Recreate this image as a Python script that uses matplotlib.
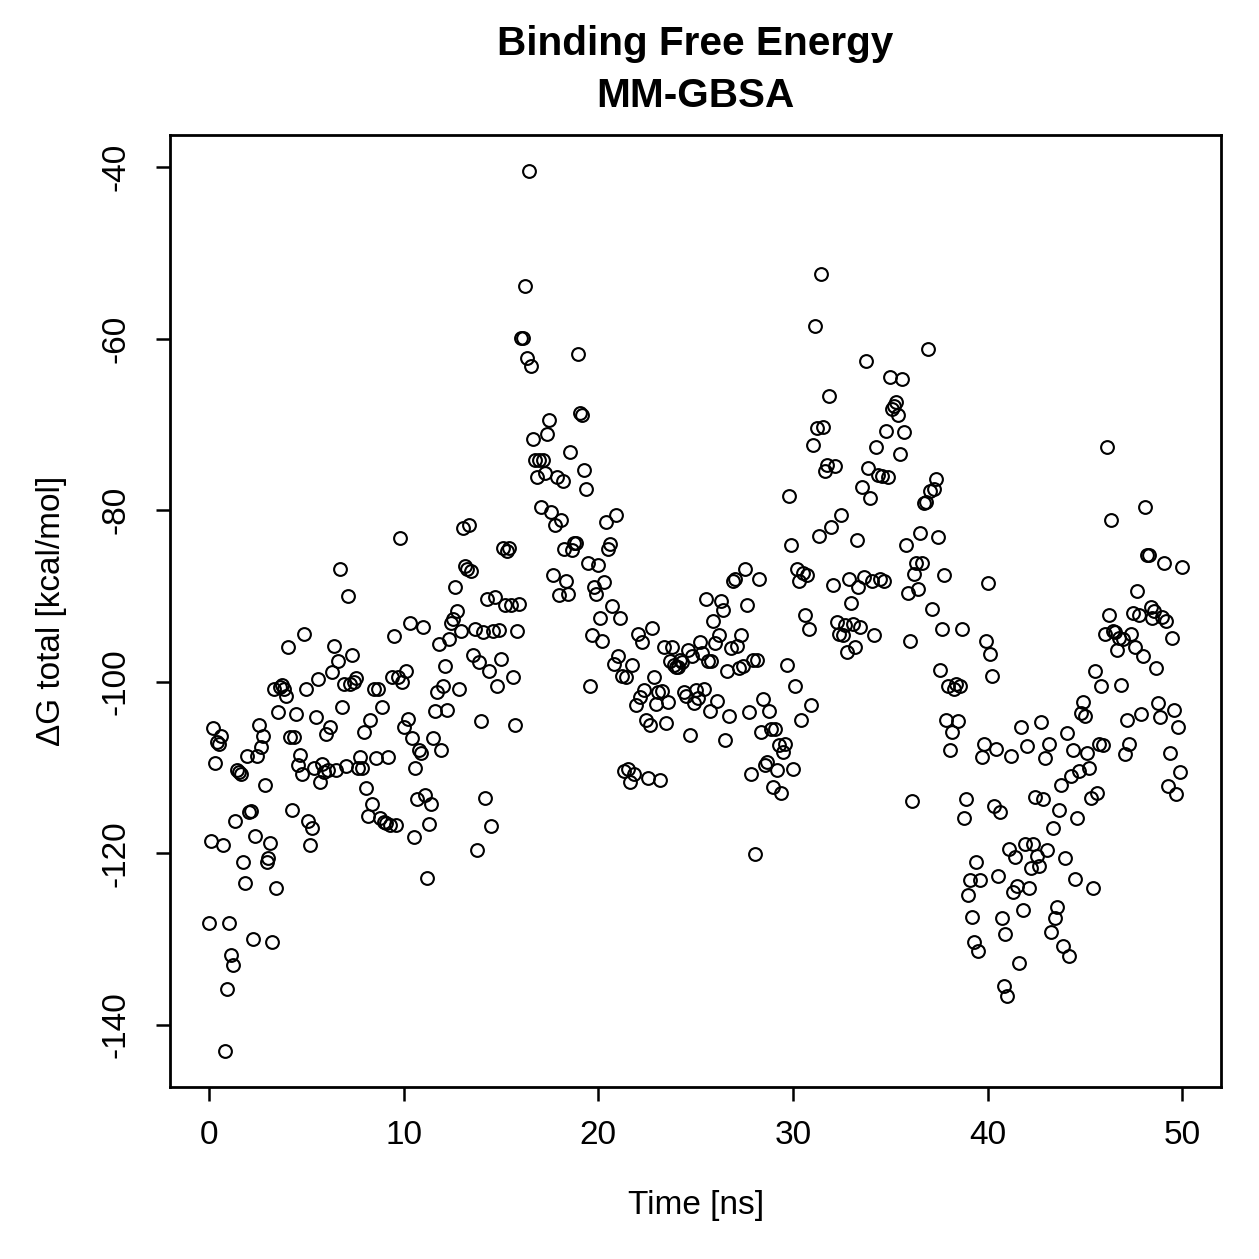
import numpy as np
import matplotlib
matplotlib.use("Agg")
import matplotlib.pyplot as plt

plt.rcParams['font.family'] = ['Liberation Sans', 'DejaVu Sans']

# dG total (kcal/mol), one frame every ~0.1 ns from 0 to 50 ns
dg = [
    -128.1, -118.6, -105.4, -109.5, -107.0, -107.2, -106.3, -119.0, -143.0, -135.8,
    -128.1, -131.9, -133.0, -116.2, -110.3, -110.5, -110.8, -121.0, -123.5, -108.6,
    -115.2, -115.1, -130.0, -118.0, -108.7, -105.0, -107.6, -106.3, -112.0, -121.0,
    -120.6, -118.8, -130.3, -100.8, -124.0, -103.5, -100.6, -100.4, -100.8, -101.7,
    -96.0, -106.4, -114.9, -106.4, -103.7, -109.7, -108.5, -110.8, -94.4, -100.8,
    -116.2, -119.0, -117.0, -110.1, -104.1, -99.7, -111.7, -109.6, -110.5, -106.1,
    -110.3, -105.3, -98.9, -95.8, -110.3, -97.6, -86.8, -102.9, -100.2, -109.8,
    -90.0, -100.3, -96.9, -100.0, -99.6, -110.1, -108.8, -110.0, -105.9, -112.4,
    -115.7, -104.5, -114.3, -100.8, -108.9, -100.8, -115.9, -102.9, -116.4, -116.5,
    -108.8, -116.7, -99.5, -94.7, -116.7, -99.5, -83.2, -100.0, -105.3, -98.8,
    -104.3, -93.1, -106.6, -118.1, -110.1, -113.7, -107.9, -108.3, -93.6, -113.2,
    -122.9, -116.6, -114.3, -106.5, -103.4, -101.2, -95.6, -108.0, -100.5, -98.2,
    -103.3, -95.0, -93.2, -92.7, -88.9, -91.7, -100.8, -94.1, -82.1, -86.5,
    -86.9, -81.7, -87.1, -96.9, -93.8, -119.6, -97.7, -104.6, -94.2, -113.6,
    -90.3, -98.7, -116.8, -94.1, -90.1, -100.5, -94.0, -97.4, -84.4, -91.0,
    -84.7, -84.4, -91.0, -99.5, -105.0, -94.1, -90.9, -59.9, -59.9, -53.9,
    -62.2, -40.4, -63.2, -71.7, -74.1, -76.1, -74.1, -79.6, -74.1, -75.6,
    -71.1, -69.5, -80.2, -87.5, -81.7, -76.1, -89.9, -81.1, -76.6, -84.5,
    -88.3, -89.8, -73.2, -84.6, -83.8, -83.8, -61.8, -68.6, -68.9, -75.3,
    -77.5, -86.1, -100.5, -94.5, -88.9, -89.8, -86.4, -92.6, -95.3, -88.4,
    -81.4, -84.5, -83.9, -91.2, -97.9, -80.6, -97.0, -92.6, -99.3, -110.4,
    -99.4, -110.2, -111.7, -98.1, -110.8, -102.7, -94.4, -101.8, -95.4, -101.0,
    -104.4, -111.2, -105.0, -93.7, -99.5, -102.6, -101.2, -111.4, -101.1, -96.0,
    -104.8, -102.4, -97.6, -96.0, -98.0, -98.3, -98.3, -97.5, -97.7, -101.2,
    -101.6, -96.3, -106.2, -97.0, -102.5, -100.9, -101.9, -95.4, -96.7, -100.8,
    -90.4, -97.6, -103.4, -97.6, -92.9, -95.5, -102.2, -94.6, -90.6, -91.6,
    -106.8, -98.8, -104.0, -96.1, -88.2, -88.0, -95.8, -98.4, -94.6, -98.2,
    -86.8, -91.1, -103.5, -110.7, -97.5, -120.1, -97.5, -88.0, -105.8, -102.0,
    -109.7, -109.3, -103.4, -105.5, -112.3, -105.5, -110.3, -107.4, -113.0, -108.2,
    -107.3, -98.1, -78.3, -84.0, -110.2, -100.5, -86.8, -88.2, -104.4, -87.3,
    -92.2, -87.6, -93.8, -102.7, -72.4, -58.5, -70.4, -83.0, -52.5, -70.3,
    -75.4, -74.7, -66.7, -81.9, -88.7, -74.8, -93.0, -94.4, -80.5, -94.5,
    -93.4, -96.5, -88.0, -90.8, -93.3, -96.0, -83.5, -89.0, -93.6, -77.3,
    -87.8, -62.6, -75.1, -78.6, -88.3, -94.6, -72.6, -75.9, -88.0, -76.0,
    -88.2, -70.7, -76.1, -64.4, -68.2, -67.8, -67.4, -68.9, -73.4, -64.7,
    -70.9, -84.0, -89.7, -95.3, -113.9, -87.4, -86.1, -89.2, -82.6, -86.2,
    -79.2, -79.0, -61.2, -77.8, -91.5, -77.5, -76.3, -83.1, -98.6, -93.9,
    -87.6, -104.5, -100.5, -108.0, -105.9, -100.8, -100.3, -104.6, -100.5, -93.9,
    -115.9, -113.7, -124.9, -123.1, -127.4, -130.3, -121.0, -131.4, -123.1, -108.8,
    -107.2, -95.3, -88.5, -96.8, -99.3, -114.5, -107.8, -122.7, -115.2, -127.6,
    -135.5, -129.4, -136.7, -119.5, -108.6, -124.5, -120.4, -123.8, -132.8, -105.3,
    -126.6, -118.9, -107.5, -124.0, -121.7, -118.9, -113.4, -120.3, -121.5, -104.7,
    -113.7, -108.9, -119.6, -107.2, -129.2, -117.1, -127.5, -126.3, -115.0, -112.0,
    -130.8, -120.6, -106.0, -132.0, -111.0, -107.9, -123.0, -115.9, -110.4, -103.6,
    -102.3, -104.0, -108.3, -110.1, -113.6, -124.1, -98.8, -113.0, -107.2, -100.5,
    -107.4, -94.4, -72.6, -92.2, -81.1, -94.1, -94.2, -96.3, -94.9, -100.4,
    -95.0, -108.4, -104.4, -107.3, -94.4, -92.0, -96.0, -89.4, -92.2, -103.7,
    -97.0, -79.6, -85.2, -85.2, -91.3, -92.6, -91.8, -98.4, -102.5, -104.1,
    -92.4, -86.1, -92.9, -112.1, -108.3, -94.9, -103.3, -113.1, -105.3, -110.5,
    -86.6,
]
t_start = 0.0
t_end = 50.0
time = np.linspace(t_start, t_end, len(dg))

xticks = [0, 10, 20, 30, 40, 50]
yticks = [-140, -120, -100, -80, -60, -40]


def main():
    fig = plt.figure(figsize=(6.295, 6.295), dpi=200)
    ax = fig.add_axes([0.135, 0.137, 0.835, 0.756])
    ax.plot(time, dg, linestyle='none', marker='o', markersize=4.6,
            markerfacecolor='none', markeredgecolor='black', markeredgewidth=0.75)

    ax.set_xlim(-2, 52)
    ax.set_ylim(-147.2, -36.2)
    ax.set_xticks(xticks)
    ax.set_yticks(yticks)
    ax.set_xticklabels([str(v) for v in xticks])
    ax.set_yticklabels([str(v) for v in yticks], rotation=90, va='center')
    ax.tick_params(direction='out', length=5, width=0.9, labelsize=12, pad=7)
    ax.tick_params(axis='y', pad=9)
    for s in ax.spines.values():
        s.set_linewidth(1.0)

    ax.set_xlabel('Time [ns]', fontsize=12, labelpad=14)
    ax.set_ylabel('ΔG total [kcal/mol]', fontsize=12, labelpad=12)
    ax.set_title('Binding Free Energy\nMM-GBSA', fontsize=14.6, fontweight='bold',
                 pad=10, linespacing=1.45)

    fig.savefig('out.png', dpi=200)


if __name__ == '__main__':
    main()
